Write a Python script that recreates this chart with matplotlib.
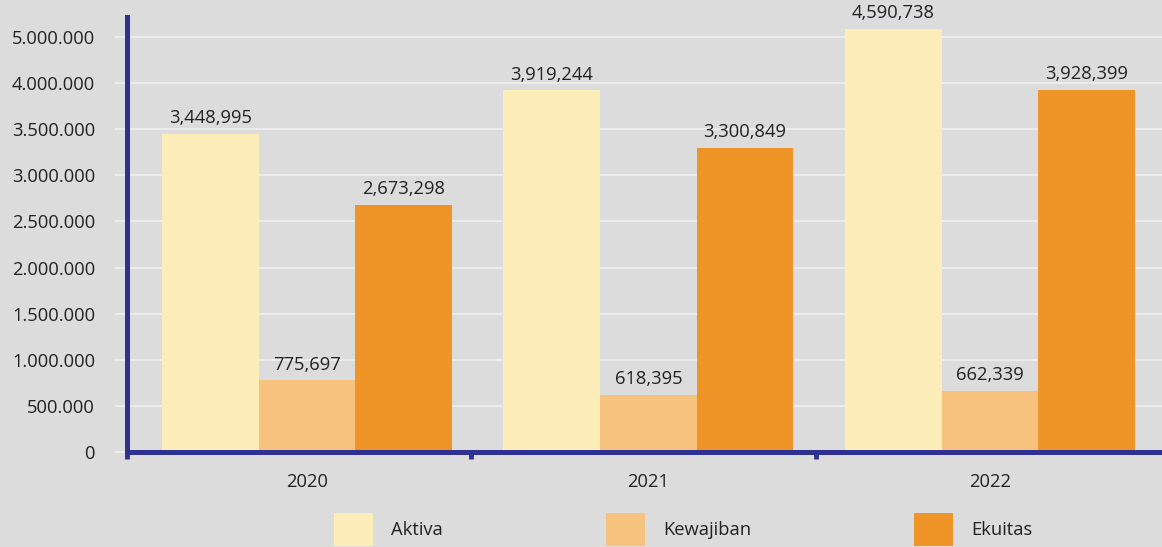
import matplotlib
matplotlib.use("Agg")
import matplotlib.pyplot as plt
import numpy as np
from matplotlib.patches import Patch

years = ["2020", "2021", "2022"]
series_names = ["Aktiva", "Kewajiban", "Ekuitas"]
aktiva = [3448995, 3919244, 4590738]
kewajiban = [775697, 618395, 662339]
ekuitas = [2673298, 3300849, 3928399]
y_tick_values = [0, 500000, 1000000, 1500000, 2000000, 2500000,
                 3000000, 3500000, 4000000, 4500000]
y_tick_labels = ["0", "500.000", "1.000.000", "1.500.000", "2.000.000",
                 "2.500.000", "3.000.000", "3.500.000", "4.000.000", "5.000.000"]

colors = ["#FDEDB8", "#F7C27E", "#EF9426"]
bg = "#DCDCDC"
axis_blue = "#2E3192"
text_col = "#222222"

plt.rcParams["font.family"] = ["Open Sans", "DejaVu Sans"]
fs = 13.2

W, H = 1162, 547
fig = plt.figure(figsize=(W / 100, H / 100), dpi=100, facecolor=bg)
ax = fig.add_axes([127 / W, 1 - 452 / H, 1 - 127 / W, 452 / H])
ax.set_facecolor(bg)

ymax = 4900000
x = np.arange(len(years))
bw = 0.283
for i, (name, vals) in enumerate(zip(series_names, [aktiva, kewajiban, ekuitas])):
    pos = x + (i - 1) * bw
    ax.bar(pos, vals, width=bw, color=colors[i], label=name, zorder=2)
    for xp, v in zip(pos, vals):
        ax.annotate(f"{v:,}", (xp, v), xytext=(0, 5), textcoords="offset points",
                    ha="center", va="bottom", fontsize=fs, color=text_col,
                    annotation_clip=False)

xlo, xhi = -0.527, 2.504
ax.set_xlim(xlo, xhi)
ax.set_ylim(0, ymax)

ax.set_yticks(y_tick_values)
ax.set_yticklabels(y_tick_labels)
ax.yaxis.grid(True, color="#F2F2F2", linewidth=1.1, zorder=0)
ax.set_axisbelow(True)
ax.tick_params(axis="y", direction="out", length=9, width=1.1, color="#F2F2F2",
               pad=14, labelsize=fs, labelcolor=text_col)

ax.set_xticks(x)
ax.set_xticklabels(years)
ax.tick_params(axis="x", which="major", length=0, pad=15, labelsize=fs,
               labelcolor=text_col)
ax.set_xticks([xlo, 0.48, 1.49], minor=True)
ax.tick_params(axis="x", which="minor", direction="out", length=5, width=3.5,
               color=axis_blue)

for s in ["top", "right"]:
    ax.spines[s].set_visible(False)
for s in ["left", "bottom"]:
    ax.spines[s].set_color(axis_blue)
    ax.spines[s].set_linewidth(3.6)
    ax.spines[s].set_zorder(3)
ax.spines["left"].set_bounds(0, ymax * (452 - 17) / 452)

handles = [Patch(facecolor=c, edgecolor="none", label=n) for c, n in zip(colors, series_names)]
fig.legend(handles=handles, loc="upper center", bbox_to_anchor=(0.588, 1 - 513 / H),
           ncol=3, frameon=False, fontsize=fs, handlelength=2.1, handleheight=2.4,
           handletextpad=1.0, columnspacing=8.9, borderpad=0, borderaxespad=0,
           labelcolor=text_col)

fig.savefig("out.png", dpi=100, facecolor=bg)
